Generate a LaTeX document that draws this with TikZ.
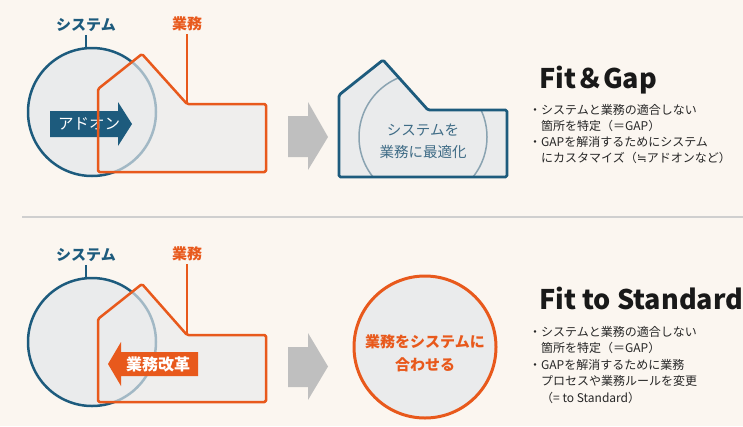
\documentclass[tikz,border=0pt]{standalone}
\usepackage{fontspec}
\setmainfont{Noto Sans CJK JP}
\newfontfamily\symfont{DejaVu Sans}
\definecolor{bg}{HTML}{FBF6F0}
\definecolor{sysblue}{HTML}{1D5B7D}
\definecolor{bizorange}{HTML}{E8591C}
\definecolor{shapefill}{HTML}{EAEBEC}
\definecolor{arrowgray}{HTML}{BFBFBF}
\definecolor{sepgray}{HTML}{CFCFCF}
\definecolor{midtext}{HTML}{3F6C86}
\definecolor{arcblue}{HTML}{8AA3B1}
\definecolor{bodytext}{HTML}{262626}
\tikzset{
  syslabel/.style={inner sep=0pt, text=sysblue, font=\fontsize{15}{18}\selectfont\bfseries},
  bizlabel/.style={inner sep=0pt, text=bizorange, font=\fontsize{15}{18}\selectfont\bfseries},
  systick/.style={draw=sysblue, line width=1.5pt, shorten <=3pt},
  biztick/.style={draw=bizorange, line width=1.5pt, shorten <=3pt},
  syscircle/.style={draw=sysblue, line width=2.5pt, fill=shapefill},
  bizfill/.style={fill=shapefill, fill opacity=0.65},
  bizline/.style={draw=bizorange, line width=2.5pt, rounded corners=1.5pt, line join=round},
  grayarrow/.style={fill=arrowgray},
  arrowtext/.style={inner sep=0pt, text=white, font=\fontsize{15.5}{18}\selectfont},
  title/.style={inner sep=0pt, anchor=base west, text=black!90, font=\fontsize{27}{30}\selectfont\bfseries},
  bullet/.style={inner sep=0pt, anchor=base west, text=bodytext, font=\fontsize{12}{14}\selectfont},
}
\begin{document}
\begin{tikzpicture}[x=1pt,y=-1pt]
\useasboundingbox (0,0) rectangle (743,426);
\fill[bg] (0,0) rectangle (743,426);
% separator
\coordinate (sepL) at (22,216.5);
\coordinate (sepR) at (743,216.5);
\draw[sepgray, line width=2pt] (sepL) -- (sepR);

%================ TOP PANEL ================
\draw[syscircle] (92,112) circle (64);
\fill[bizfill] (98,172) -- (98,89) -- (142,54) -- (187,104) -- (266,104) -- (266,172) -- cycle;
\fill[sysblue] (50,111) -- (118,111) -- (118,102) -- (132,124) -- (118,146) -- (118,137) -- (50,137) -- cycle;
\node[arrowtext] (addon) at (89,124) {アドオン};
\draw[bizline] (98,172) -- (98,89) -- (142,54) -- (187,104) -- (266,104) -- (266,172) -- cycle;

\node[syslabel] (sys1) at (86,25) {システム};
\coordinate (sys1tip) at (86,48.5);
\draw[systick] (sys1.south) -- (sys1tip);
\node[bizlabel] (biz1) at (187,24) {業務};
\coordinate (biz1tip) at (187,104);
\draw[biztick] (biz1.south) -- (biz1tip);

% gray arrow
\fill[grayarrow] (288,116) -- (308,116) -- (308,102) -- (328,137) -- (308,170) -- (308,157) -- (288,157) -- cycle;

% optimized shape
\fill[shapefill] (339,177) -- (339,95) -- (383,60) -- (428,110) -- (507,110) -- (507,177) -- cycle;
\begin{scope}
  \clip (339,177) -- (339,95) -- (383,60) -- (428,110) -- (507,110) -- (507,177) -- cycle;
  \draw[arcblue, line width=1.5pt] (423,137) circle (64);
\end{scope}
\draw[sysblue, line width=2.8pt, rounded corners=1.5pt, line join=round] (339,177) -- (339,95) -- (383,60) -- (428,110) -- (507,110) -- (507,177) -- cycle;
\node[inner sep=0pt, text=midtext, align=center, font=\fontsize{14.5}{22}\selectfont] (opt) at (423,141) {システムを\\業務に最適化};

% right text
\node[title] (t1) at (539,88) {Fit＆Gap};
\node[bullet] (a1) at (529,114.5) {・システムと業務の適合しない};
\node[bullet] (a2) at (541,130.5) {箇所を特定（＝GAP）};
\node[bullet] (a3) at (529,146.5) {・GAPを解消するためにシステム};
\node[bullet] (a4) at (541,162.5) {にカスタマイズ（{\symfont ≒}アドオンなど）};

%================ BOTTOM PANEL ================
\draw[syscircle] (92,342) circle (64);
\fill[bizfill] (98,402) -- (98,319) -- (142,284) -- (187,335) -- (266,335) -- (266,402) -- cycle;
\draw[bizline] (98,402) -- (98,319) -- (142,284) -- (187,335) -- (266,335) -- (266,402) -- cycle;
\fill[bizorange] (198,352) -- (121,352) -- (121,342) -- (108,364) -- (121,386) -- (121,376) -- (198,376) -- cycle;
\node[arrowtext, font=\fontsize{16}{18}\selectfont\bfseries] (kaikaku) at (158,364) {業務改革};

\node[syslabel] (sys2) at (86,255) {システム};
\coordinate (sys2tip) at (86,278.5);
\draw[systick] (sys2.south) -- (sys2tip);
\node[bizlabel] (biz2) at (187,254) {業務};
\coordinate (biz2tip) at (187,335);
\draw[biztick] (biz2.south) -- (biz2tip);

% gray arrow
\fill[grayarrow] (288,347) -- (308,347) -- (308,333) -- (328,366.5) -- (308,400) -- (308,387) -- (288,387) -- cycle;

% orange circle
\draw[bizorange, line width=3pt, fill=shapefill] (425,347) circle (71);
\node[inner sep=0pt, text=bizorange, align=center, font=\fontsize{15}{23}\selectfont\bfseries] (fit) at (425,353.5) {業務をシステムに\\合わせる};

% right text
\node[title] (t2) at (539,309) {Fit to Standard};
\node[bullet] (c1) at (529,336) {・システムと業務の適合しない};
\node[bullet] (c2) at (541,352.5) {箇所を特定（＝GAP）};
\node[bullet] (c3) at (529,369) {・GAPを解消するために業務};
\node[bullet] (c4) at (541,385.5) {プロセスや業務ルールを変更};
\node[bullet] (c5) at (541,402) {（= to Standard）};
\end{tikzpicture}
\end{document}
